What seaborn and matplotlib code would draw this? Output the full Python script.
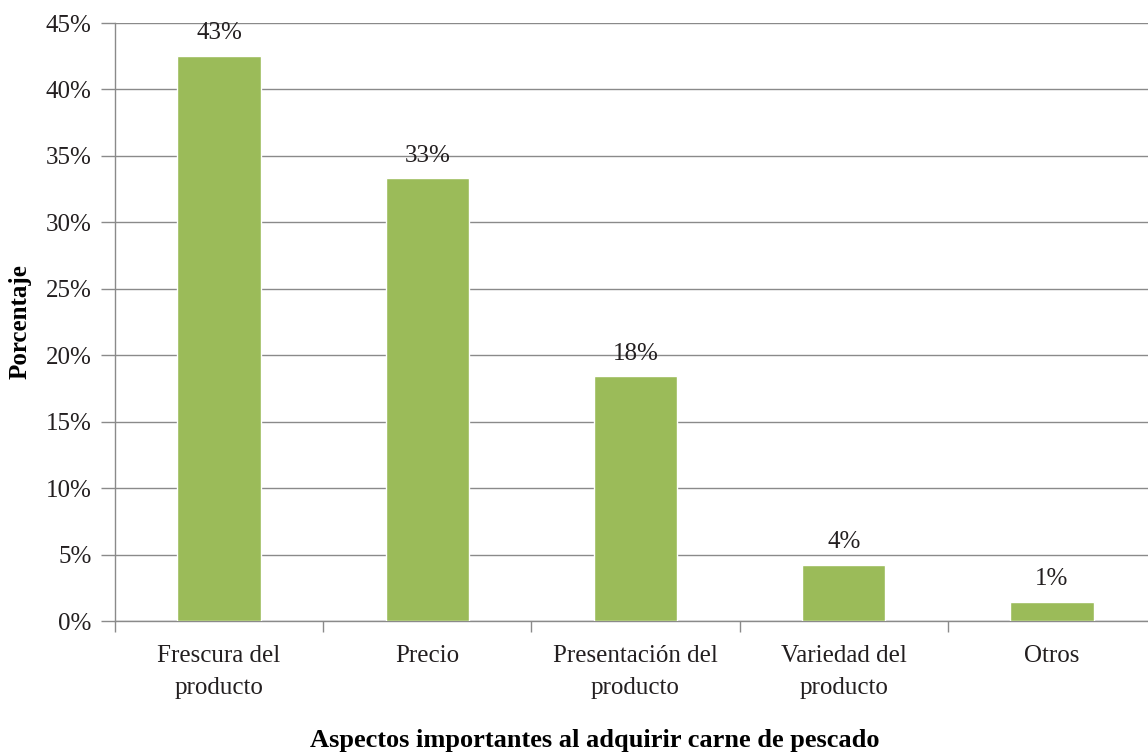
import matplotlib
matplotlib.use("Agg")
import matplotlib.pyplot as plt
import seaborn as sns
import pandas as pd
from matplotlib.ticker import FixedLocator

categories = ["Frescura del\nproducto", "Precio", "Presentación del\nproducto", "Variedad del\nproducto", "Otros"]
values = [42.5, 33.3, 18.4, 4.2, 1.4]
labels = ["43%", "33%", "18%", "4%", "1%"]
y_ticks = [0, 5, 10, 15, 20, 25, 30, 35, 40, 45]

sns.set_theme(style="white")
plt.rcParams['font.family'] = ['Liberation Serif', 'DejaVu Serif']
text_color = "#231f20"
grid_color = "#8a8a8a"
fs = 18

fig = plt.figure(figsize=(11.48, 7.53), dpi=100)
W, H = 1148, 753
left, right, top, bottom = 115, 1156, 23, 621
ax = fig.add_axes([left / W, 1 - bottom / H, (right - left) / W, (bottom - top) / H])

df = pd.DataFrame({"cat": categories, "val": values})
sns.barplot(data=df, x="cat", y="val", color="#9bbb59", width=0.4, saturation=1, ax=ax, zorder=3)

ax.set_ylim(0, 45)
ax.set_xlim(-0.5, 4.5)
ax.yaxis.set_major_locator(FixedLocator(y_ticks))
ax.set_yticklabels([f"{t}%" for t in y_ticks])
ax.grid(axis="y", color=grid_color, linewidth=1, zorder=0)
ax.grid(axis="x", visible=False)

for s in ["top", "right"]:
    ax.spines[s].set_visible(False)
for s in ["left", "bottom"]:
    ax.spines[s].set_color(grid_color)
    ax.spines[s].set_linewidth(1)

ax.tick_params(axis="y", which="major", length=10, color=grid_color, width=1, labelsize=fs, labelcolor=text_color, pad=7, left=True)
ax.tick_params(axis="x", which="major", length=0, labelsize=fs, labelcolor=text_color, pad=17)
for t in ax.get_xticklabels():
    t.set_linespacing(1.6)
ax.xaxis.set_minor_locator(FixedLocator([i + 0.5 for i in range(-1, 5)]))
ax.tick_params(axis="x", which="minor", length=8, color=grid_color, width=1, bottom=True)

for i, (v, lab) in enumerate(zip(values, labels)):
    ax.text(i, v + 0.9, lab, ha="center", va="bottom", fontsize=fs, color=text_color)

ax.set_xlabel("")
ax.set_ylabel("Porcentaje", fontsize=fs, fontweight="bold", color="black", labelpad=10)
fig.text(595 / W, 1 - 740 / H, "Aspectos importantes al adquirir carne de pescado",
         ha="center", va="center", fontsize=19, fontweight="bold", color="black")

fig.savefig("out.png", dpi=100)
